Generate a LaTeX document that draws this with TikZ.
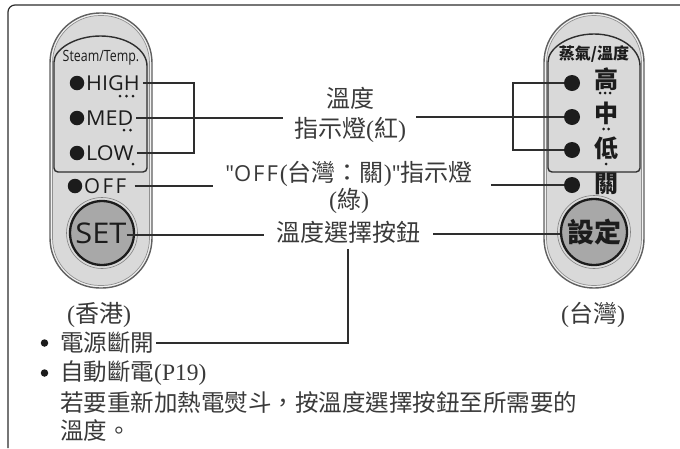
\documentclass[tikz,border=0pt]{standalone}
\usepackage{fontspec}
\setmainfont{Liberation Serif}
\newfontfamily\cjk{Noto Sans CJK TC}
\newfontfamily\osans{Open Sans}
\definecolor{txt}{HTML}{3A3A3A}
\definecolor{lncol}{HTML}{2E2E2E}
\definecolor{ledcol}{HTML}{1C1C1C}
\definecolor{pillfill}{HTML}{D9D9D9}
\definecolor{pillband}{HTML}{F2F2F2}
\definecolor{pilledge}{HTML}{606060}
\definecolor{btnfill}{HTML}{A8A8A8}
\newcommand\Lp{{\rmfamily(}}
\newcommand\Rp{{\rmfamily)}}
\tikzset{
  ln/.style={draw=lncol, line width=1.1pt},
  frameline/.style={draw=lncol, line width=1.2pt},
  pillout/.style={fill=pillband, draw=pilledge, line width=1.4pt},
  pillin/.style={fill=pillfill, draw=pilledge!70, line width=0.7pt},
  innerbox/.style={draw=lncol, line width=1.4pt},
  led/.style={circle, fill=ledcol, inner sep=0pt, minimum size=14.5pt},
  ledr/.style={circle, fill=ledcol, inner sep=0pt, minimum size=16pt},
  lbl/.style={inner sep=0pt, text=txt, font=\cjk\fontsize{24}{30}\selectfont, align=center},
  btxt/.style={inner sep=0pt, anchor=west, text=txt, font=\cjk\fontsize{23.5}{28}\selectfont},
  ptxt/.style={inner sep=0pt, anchor=west, text=ledcol, font=\osans\fontsize{20.5}{20.5}\selectfont},
  rch/.style={inner sep=0pt, text=ledcol, font=\cjk\bfseries\fontsize{24}{24}\selectfont},
  btn/.style={circle, fill=btnfill, draw=ledcol, line width=2.3pt, inner sep=0pt},
}
\begin{document}
\begin{tikzpicture}[x=1pt,y=-1pt]
\useasboundingbox (0,0) rectangle (680,448);
\fill[white] (0,0) rectangle (680,448);
% outer frame
\draw[frameline, rounded corners=7pt] (8,448) -- (8,5) -- (680,5);

% ---------- left pill ----------
\path[pillout, rounded corners=50pt] (50,13) rectangle (152,288);
\path[pillin, rounded corners=47.5pt] (52.5,15.5) rectangle (149.5,285.5);
\draw[innerbox] (54,66) arc[start angle=180, end angle=360, x radius=46.5, y radius=30] [rounded corners=4pt] -- (147,172) -- (54,172) -- cycle;
\node[inner sep=0pt, text=ledcol, font=\osans\fontsize{15.5}{15.5}\selectfont] (steam) at (101,58) {\scalebox{0.8}[1]{Steam/Temp.}};
\node[led] (lhigh) at (77,83) {};
\node[led] (lmed) at (77,118) {};
\node[led] (llow) at (77,153) {};
\node[led] (loff) at (75,186) {};
\node[ptxt] (thigh) at (86,83) {\scalebox{1.05}[1]{HIGH}};
\node[ptxt] (tmed) at (86,118) {\scalebox{1.05}[1]{MED}};
\node[ptxt] (tlow) at (86,153) {\scalebox{1.05}[1]{LOW}};
\node[ptxt] (toff) at (84,186) {O\kern2.5pt F\kern2.5pt F};
\fill[ledcol] (120,96) circle (1.5) (126.5,96) circle (1.5) (133,96) circle (1.5);
\fill[ledcol] (124,130) circle (1.5) (130.5,130) circle (1.5);
\fill[ledcol] (133,164) circle (1.5);
\draw[draw=pilledge!80, line width=0.6pt] (102,233) circle (35.5);
\node[btn, minimum size=64pt] (lset) at (102,233) {};
\node[inner sep=0pt, text=ledcol, font=\osans\fontsize{28.5}{28.5}\selectfont] (tset) at (101,233) {\scalebox{1.08}[1]{SET}};

% ---------- right pill ----------
\path[pillout, rounded corners=49.5pt] (544,13) rectangle (644,288);
\path[pillin, rounded corners=47pt] (546.5,15.5) rectangle (641.5,285.5);
\draw[innerbox] (548,66) arc[start angle=180, end angle=360, x radius=46, y radius=32] [rounded corners=4pt] -- (640,172) -- (548,172) -- cycle;
\node[inner sep=0pt, text=ledcol, font=\cjk\bfseries\fontsize{16}{16}\selectfont] (zhq) at (594,54) {蒸氣/溫度};
\node[ledr] (rhigh) at (572,83) {};
\node[ledr] (rmed) at (572,117) {};
\node[ledr] (rlow) at (572,150) {};
\node[ledr] (roff) at (572,185) {};
\node[rch] (chigh) at (606,79) {高};
\node[rch] (cmed) at (606,113) {中};
\node[rch] (clow) at (606,148) {低};
\node[rch] (coff) at (606,184) {關};
\fill[ledcol] (600,93) circle (1.5) (605,93) circle (1.5) (610,93) circle (1.5);
\fill[ledcol] (603.5,129) circle (1.5) (608.5,129) circle (1.5);
\fill[ledcol] (606,164) circle (1.5);
\draw[draw=pilledge!80, line width=0.6pt] (594,232) circle (36.5);
\node[btn, minimum size=66pt] (rset) at (594,232) {};
\node[inner sep=0pt, text=ledcol, font=\cjk\bfseries\fontsize{27}{27}\selectfont] (tsetr) at (594,232) {設定};

% ---------- middle labels ----------
\node[lbl] (tempind) at (350,115) {溫度\\指示燈\Lp 紅\Rp};
\node[lbl, font=\cjk\fontsize{24}{27}\selectfont] (offlbl) at (349,187)
  {{\osans\fontsize{22}{22}\selectfont "O\kern2pt F\kern2pt F}\kern2pt\Lp 台灣：關\Rp{\osans\fontsize{22}{22}\selectfont "}指示燈\\\Lp 綠\Rp};
\node[lbl] (setlbl) at (348,232) {溫度選擇按鈕};

% ---------- bottom ----------
\node[lbl] (hk) at (99,315) {\Lp 香港\Rp};
\node[lbl] (tw) at (593,315) {\Lp 台灣\Rp};
\node[circle, fill=ledcol, inner sep=0pt, minimum size=7.5pt] (b1) at (44.5,343) {};
\node[circle, fill=ledcol, inner sep=0pt, minimum size=7.5pt] (b2) at (44.5,373) {};
\node[btxt] (pwroff) at (60,343) {電源斷開};
\node[btxt] (auto) at (60,373) {自動斷電{\rmfamily(P19)}};
\node[btxt] (reheat) at (60,403) {若要重新加熱電熨斗，按溫度選擇按鈕至所需要的};
\node[btxt] (reheat2) at (60,431) {溫度。};

% ---------- connectors ----------
\coordinate (lbr) at (191,0);
\coordinate (rbr) at (513,0);
\draw[ln] ([xshift=3pt]thigh.east) -- ([xshift=3pt]thigh.east -| lbr) -- ([xshift=3pt]tlow.east -| lbr) -- ([xshift=3pt]tlow.east);
\draw[ln] ([xshift=3pt]tmed.east) -- ([xshift=-11pt]tempind.west |- tmed.east);
\draw[ln] ([xshift=10pt]tempind.east |- rmed.west) -- (rmed.west);
\draw[ln] (rhigh.west) -- (rhigh.west -| rbr) -- (rlow.west -| rbr) -- (rlow.west);
\draw[ln] ([xshift=8pt]toff.east) -- ([xshift=-12pt]offlbl.north west |- toff.east);
\draw[ln] ([xshift=18pt]offlbl.north east |- roff.west) -- (roff.west);
\draw[ln] ([yshift=-2pt]tset.east) -- ([xshift=-12pt,yshift=-2pt]setlbl.west |- tset.east);
\draw[ln] ([xshift=13pt,yshift=-2pt]setlbl.east) -- ([yshift=-2pt]rset.west);
\draw[ln] ([yshift=-6pt]setlbl.south) -- (setlbl.south |- pwroff.east) -- ([xshift=2pt]pwroff.east);
\end{tikzpicture}
\end{document}
